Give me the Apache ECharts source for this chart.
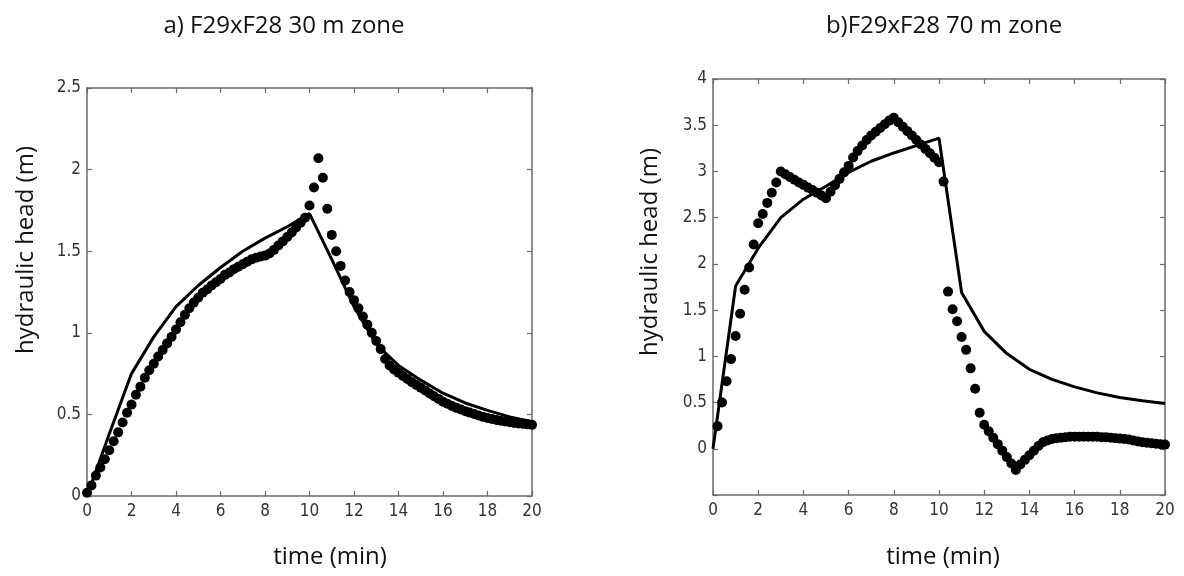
<!DOCTYPE html>
<html>
<head>
<meta charset="utf-8">
<script src="https://cdn.jsdelivr.net/npm/echarts@6/dist/echarts.min.js"></script>
<style>
html,body{margin:0;padding:0;background:#fff;}
#chart{width:1184px;height:576px;}
</style>
</head>
<body>
<div id="chart"></div>
<script>
// ---- DATA ----
const titleA = 'a) F29xF28 30 m zone';
const titleB = 'b)F29xF28 70 m zone';
const xName = 'time (min)';
const yName = 'hydraulic head (m)';

const xTicks = [0, 2, 4, 6, 8, 10, 12, 14, 16, 18, 20];
const yTicksA = [0, 0.5, 1, 1.5, 2, 2.5];
const yTicksB = [0, 0.5, 1, 1.5, 2, 2.5, 3, 3.5, 4];

// model (solid line) sampled every minute
const modelTime = [0,1,2,3,4,5,6,7,8,9,10,11,12,13,14,15,16,17,18,19,20];
const modelA = [0,0.38,0.75,0.975,1.16,1.29,1.40,1.50,1.58,1.65,1.73,1.45,1.16,0.93,0.80,0.71,0.63,0.57,0.525,0.485,0.455];
const modelB = [0,1.76,2.17,2.50,2.70,2.84,2.99,3.11,3.20,3.28,3.36,1.69,1.27,1.03,0.86,0.75,0.67,0.605,0.555,0.52,0.49];

// observed (dots)
const obsTime = [0,0.2,0.4,0.6,0.8,1,1.2,1.4,1.6,1.8,2,2.2,2.4,2.6,2.8,3,3.2,3.4,3.6,3.8,4,4.2,4.4,4.6,4.8,5,5.2,5.4,5.6,5.8,6,6.2,6.4,6.6,6.8,7,7.2,7.4,7.6,7.8,8,8.2,8.4,8.6,8.8,9,9.2,9.4,9.6,9.8,10,10.2,10.4,10.6,10.8,11,11.2,11.4,11.6,11.8,12,12.2,12.4,12.6,12.8,13,13.2,13.4,13.6,13.8,14,14.2,14.4,14.6,14.8,15,15.2,15.4,15.6,15.8,16,16.2,16.4,16.6,16.8,17,17.2,17.4,17.6,17.8,18,18.2,18.4,18.6,18.8,19,19.2,19.4,19.6,19.8,20];
const obsA = [0.02,0.065,0.125,0.175,0.225,0.28,0.335,0.39,0.45,0.51,0.56,0.62,0.67,0.725,0.77,0.81,0.855,0.895,0.935,0.975,1.02,1.065,1.11,1.15,1.185,1.215,1.245,1.265,1.29,1.31,1.33,1.355,1.37,1.39,1.405,1.42,1.435,1.45,1.46,1.468,1.473,1.486,1.508,1.535,1.56,1.587,1.615,1.645,1.675,1.705,1.78,1.89,2.07,1.95,1.76,1.60,1.50,1.41,1.32,1.25,1.20,1.15,1.10,1.05,1.00,0.95,0.90,0.84,0.80,0.775,0.755,0.735,0.717,0.697,0.68,0.664,0.646,0.628,0.611,0.595,0.578,0.565,0.551,0.54,0.53,0.52,0.511,0.502,0.493,0.485,0.478,0.472,0.466,0.461,0.456,0.452,0.448,0.445,0.442,0.439,0.436];
const obsB = [null,0.245,0.50,0.73,0.97,1.22,1.46,1.72,1.96,2.21,2.44,2.54,2.66,2.77,2.88,3.00,2.97,2.94,2.91,2.88,2.855,2.825,2.80,2.77,2.74,2.71,2.78,2.85,2.92,2.99,3.06,3.15,3.22,3.28,3.34,3.39,3.43,3.47,3.51,3.55,3.58,3.532,3.484,3.436,3.388,3.34,3.292,3.244,3.196,3.148,3.10,2.89,1.70,1.51,1.38,1.21,1.07,0.87,0.65,0.39,0.26,0.19,0.12,0.05,-0.02,-0.09,-0.16,-0.23,-0.17,-0.12,-0.07,-0.02,0.03,0.07,0.09,0.105,0.115,0.12,0.125,0.13,0.13,0.13,0.13,0.13,0.13,0.13,0.125,0.125,0.12,0.115,0.11,0.105,0.10,0.09,0.08,0.07,0.065,0.06,0.055,0.05,0.045];

// ---- BUILD ----
const pairs = (xs, ys) => xs.map((x, i) => [x, ys[i]]).filter(p => p[1] !== null);

const axisCol = '#6a6a6a';
const labelFont = '"Liberation Sans Narrow","DejaVu Sans Condensed","Open Sans",sans-serif';
const textFont = '"Open Sans","Noto Sans",sans-serif';

function xAxes(grid) {
  const base = {
    gridIndex: grid, type: 'value', min: xTicks[0], max: xTicks[xTicks.length - 1], interval: 2,
    axisLine: { show: true, onZero: false, lineStyle: { color: axisCol, width: 1.5 } },
    axisTick: { show: true, inside: true, length: 5, lineStyle: { color: axisCol, width: 1.2 } },
    splitLine: { show: false }
  };
  return [
    Object.assign({}, base, { position: 'bottom', axisLabel: { margin: 7, fontSize: 17, color: '#333', fontFamily: labelFont } }),
    Object.assign({}, base, { position: 'top', axisLabel: { show: false } })
  ];
}
function yAxes(grid, ticks, min) {
  const base = {
    gridIndex: grid, type: 'value', min: min, max: ticks[ticks.length - 1], interval: 0.5,
    axisLine: { show: true, onZero: false, lineStyle: { color: axisCol, width: 1.5 } },
    axisTick: { show: true, inside: true, length: 5, lineStyle: { color: axisCol, width: 1.2 } },
    splitLine: { show: false }
  };
  return [
    Object.assign({}, base, { position: 'left', axisLabel: { margin: 6, fontSize: 17, color: '#333', fontFamily: labelFont,
      formatter: v => (ticks.indexOf(v) >= 0 ? String(v) : '') } }),
    Object.assign({}, base, { position: 'right', axisLabel: { show: false } })
  ];
}

const txt = (text, x, y, rot) => ({
  type: 'text', x: x, y: y, rotation: rot || 0,
  style: { text: text, font: '24px ' + textFont, fill: '#111', align: 'center', verticalAlign: 'middle' }
});

const option = {
  animation: false,
  backgroundColor: '#fff',
  grid: [
    { left: 87, right: 652, top: 88, bottom: 80 },
    { left: 713, right: 19, top: 79, bottom: 81 }
  ],
  xAxis: [...xAxes(0), ...xAxes(1)],
  yAxis: [...yAxes(0, yTicksA, 0), ...yAxes(1, yTicksB, -0.5)],
  graphic: [
    txt(titleA, 284, 26),
    txt(titleB, 944, 26),
    txt(xName, 330, 557),
    txt(xName, 943, 557),
    txt(yName, 26, 250, Math.PI / 2),
    txt(yName, 650, 252, Math.PI / 2)
  ],
  series: [
    { type: 'line', xAxisIndex: 0, yAxisIndex: 0, data: pairs(modelTime, modelA), showSymbol: false,
      lineStyle: { color: '#000', width: 3 }, z: 2 },
    { type: 'scatter', xAxisIndex: 0, yAxisIndex: 0, data: pairs(obsTime, obsA), symbolSize: 10,
      itemStyle: { color: '#000', opacity: 1 }, z: 3 },
    { type: 'line', xAxisIndex: 2, yAxisIndex: 2, data: pairs(modelTime, modelB), showSymbol: false,
      lineStyle: { color: '#000', width: 3 }, z: 2 },
    { type: 'scatter', xAxisIndex: 2, yAxisIndex: 2, data: pairs(obsTime, obsB), symbolSize: 10,
      itemStyle: { color: '#000', opacity: 1 }, z: 3 }
  ]
};

const chart = echarts.init(document.getElementById('chart'), null, { renderer: 'canvas' });
chart.setOption(option);
</script>
</body>
</html>
